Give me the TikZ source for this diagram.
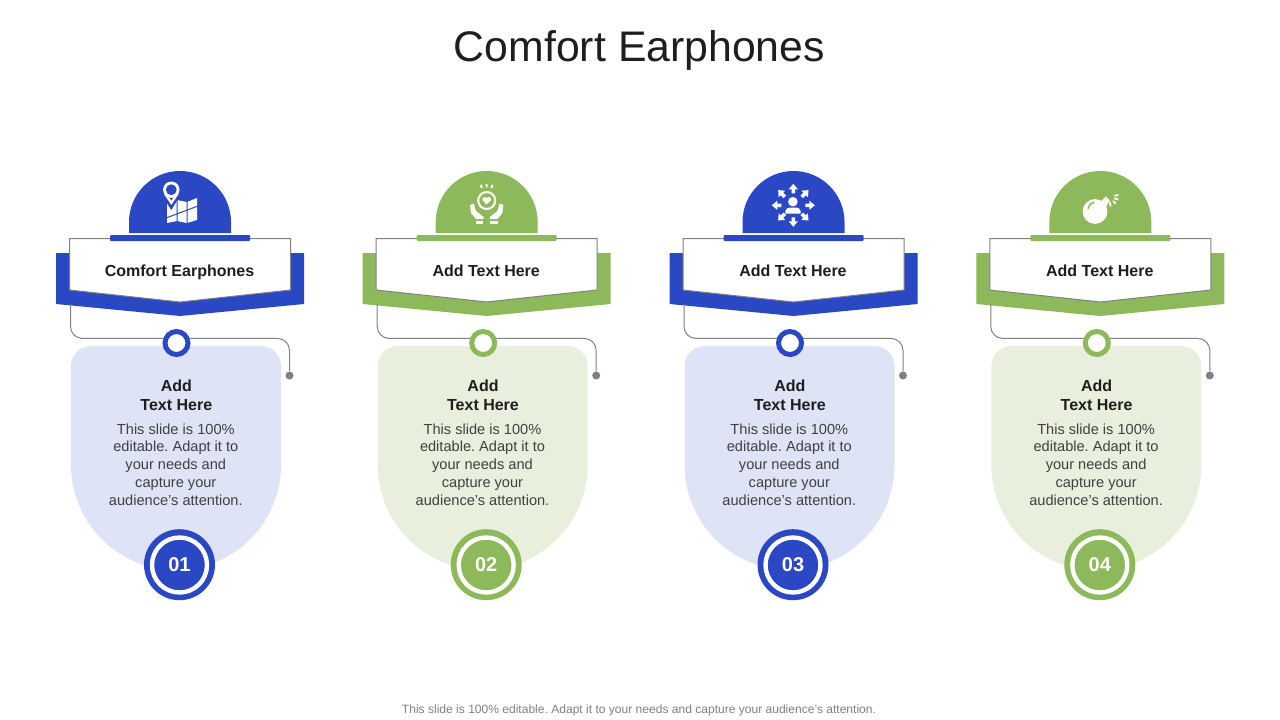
\documentclass[tikz,border=0pt]{standalone}
\usepackage{fontspec}
\setmainfont{Liberation Sans}
\usepackage{xcolor}
\definecolor{mainblue}{HTML}{2A47C4}
\definecolor{maingreen}{HTML}{8DB95A}
\definecolor{tintblue}{HTML}{DFE3F6}
\definecolor{tintgreen}{HTML}{E8F0DD}
\definecolor{wiregray}{HTML}{808080}
\definecolor{inkdark}{HTML}{1E1E1E}
\definecolor{inkbody}{HTML}{404040}
\tikzset{
  wire/.style={draw=wiregray,line width=1pt,rounded corners=12pt},
  ringnode/.style={circle,draw=#1,line width=5pt,fill=white,minimum size=23pt,inner sep=0pt},
  dotnode/.style={circle,fill=wiregray,minimum size=8pt,inner sep=0pt},
  medalback/.style={circle,fill=#1,minimum size=71pt,inner sep=0pt},
  medalfront/.style={circle,fill=#1,draw=white,line width=4.4pt,minimum size=55pt,inner sep=0pt,
    text=white,font=\fontsize{20}{24}\selectfont\bfseries},
  cardtext/.style={text=inkdark,font=\fontsize{16}{19}\selectfont\bfseries,align=center},
  bodytext/.style={text=inkbody,font=\fontsize{14.6}{17.8}\selectfont\frenchspacing,align=center},
  iconline/.style={draw=white,line width=2pt,line cap=round},
}
\begin{document}
\begin{tikzpicture}[x=1pt,y=-1pt]
        \useasboundingbox (0,0) rectangle (1280,720);

        % Title and footer
        \node[text=inkdark,font=\fontsize{42.8}{50}\selectfont] (title) at (639.5,50) {Comfort Earphones};
        \node[text=wiregray,font=\fontsize{12.05}{14}\selectfont\frenchspacing] (footer) at (639,710) {This slide is 100\% editable. Adapt it to your needs and capture your audience's attention.};

        % Four columns
        \foreach \i/\dx/\main/\tint/\lab/\num in {
            1/0/mainblue/tintblue/{Comfort Earphones}/01,
            2/306.7/maingreen/tintgreen/{Add Text Here}/02,
            3/613.5/mainblue/tintblue/{Add Text Here}/03,
            4/920.3/maingreen/tintgreen/{Add Text Here}/04} {
          \begin{scope}[shift={(\dx,0)}]
            % Dome and band
            \fill[\main] (129,222) arc[start angle=180,end angle=360,radius=51] -- (231,233) -- (129,233) -- cycle;
            \fill[\main] (56,253) -- (304,253) -- (304,304) -- (180,316) -- (56,304) -- cycle;

            % White label box
            \draw[wiregray,fill=white,line width=1pt] (69.5,238.5) -- (290.5,238.5) -- (290.5,290) -- (180,302) -- (69.5,290) -- cycle;
            \fill[\main,rounded corners=1pt] (110,235) rectangle (250,241);
            \node[cardtext,anchor=base] (card\i) at (179.5,276.7) {\lab};

            % Text panel
            \fill[\tint] (71,465) -- (71,366) arc[start angle=180,end angle=270,radius=20] -- (261,346)
              arc[start angle=270,end angle=360,radius=20] -- (281,465) arc[start angle=0,end angle=180,radius=105] -- cycle;
            \node[cardtext] (head\i) at (176.3,395.5) {Add\\Text Here};
            \node[bodytext] (body\i) at (175.8,464.5) {This slide is 100\%\\editable. Adapt it to\\your needs and\\capture your\\audience's attention.};

            % Ring, dot and wires
            \node[ringnode=\main] (ring\i) at (176.5,343) {};
            \node[dotnode] (dot\i) at (289.5,375.5) {};
            \coordinate (foot\i) at (70.5,304);
            \draw[wire] (foot\i) |- (ring\i.161);
            \draw[wire] (ring\i.19) -| (dot\i.north);

            % Number
            \node[medalback=\main] (back\i) at (179.5,564.7) {};
            \node[medalfront=\main] (num\i) at (179.5,565) {\num};
          \end{scope}
        }

        % Map icon
        \fill[white] (167,197) -- (177,200) -- (187,202) -- (197,198) -- (197,220) -- (187,223) -- (177,221) -- (167,223) -- cycle;
        \draw[mainblue,line width=1pt] (177,198) -- (177,223) (187,200) -- (187,225) (166,218) -- (198,206);
        \fill[mainblue] (159,191) -- (171.3,210) -- (183,191) -- cycle;
        \fill[white] (164,194) -- (171.3,205) -- (178.6,194) -- cycle;
        \fill[mainblue] (167,194) -- (171.3,200.5) -- (175.6,194) -- cycle;
        \fill[white] (171.3,189.7) circle[radius=8.2];
        \fill[mainblue] (171.3,189.7) circle[radius=5.4];

        % Hands icon
        \draw[white,line width=2pt] (486.7,200.5) circle[radius=8.5];
        \fill[white] (486.7,204.5) -- (482.6,200.3) .. controls (481.6,197) and (485.6,196) .. (486.7,198.3) .. controls (487.8,196) and (491.8,197) .. (490.8,200.3) -- cycle;
        \draw[iconline] (481,185.5) -- (481.8,187.5) (486.7,184.5) -- (486.7,186.5) (492.4,185.5) -- (491.6,187.5);
        \fill[white] (470,205) -- (473.8,203.5) -- (476,211) -- (483.5,217) -- (483.5,219) -- (476,219) -- (471,213) -- cycle;
        \fill[white] (475.5,220.5) rectangle (483,223.5);
        \fill[white] (503.4,205) -- (499.6,203.5) -- (497.4,211) -- (489.9,217) -- (489.9,219) -- (497.4,219) -- (502.4,213) -- cycle;
        \fill[white] (490.4,220.5) rectangle (497.9,223.5);

        % Person with arrows icon
        \fill[white] (792.9,201.7) circle[radius=4.8];
        \fill[white] (785.3,213.5) -- (785.3,211) .. controls (785.3,208) and (788,207.5) .. (793,207.5) .. controls (798,207.5) and (800.7,208) .. (800.7,211) -- (800.7,213.5) -- cycle;
        \foreach \a in {0,45,...,315} {
          \fill[white,shift={(793.3,205.3)},rotate=\a] (12,-1.8) -- (16,-1.8) -- (16,-4.6) -- (21.5,0) -- (16,4.6) -- (16,1.8) -- (12,1.8) -- cycle;
        }

        % Bomb icon
        \fill[white] (1095,211.5) circle[radius=12.4];
        \fill[white,rotate around={45:(1105.5,201)}] (1102,198) rectangle (1109,204);
        \draw[maingreen,line width=1.5pt,line cap=round] (1088,208.5) .. controls (1088.5,205.5) and (1090.5,203.5) .. (1094,202.5);
        \foreach \a in {-110,-80,-45,-15,12} {
          \draw[white,line width=2pt,line cap=round,shift={(1109,197)},rotate=\a] (6,0) -- (9,0);
        }
\end{tikzpicture}
\end{document}
